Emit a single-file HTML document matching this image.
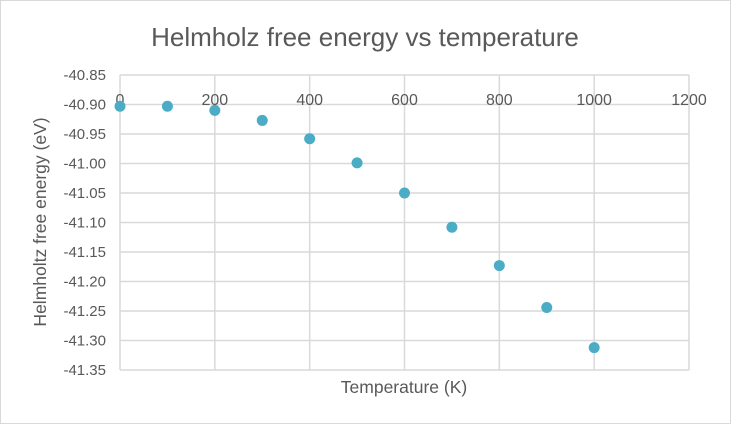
<!DOCTYPE html>
<html><head><meta charset="utf-8"><style>
body{margin:0;background:#fff;}
svg text{font-family:"Liberation Sans",sans-serif;fill:#595959;}
</style></head><body>
<svg id="chart" width="731" height="424">
<rect x="0.5" y="0.5" width="730" height="423" fill="#fff" stroke="#d9d9d9"/>
<text x="365" y="46" text-anchor="middle" font-size="26">Helmholz free energy vs temperature</text>
<g id="grid"></g><g id="xt"></g><g id="yt"></g><g id="pts"></g>
<text x="404" y="393" text-anchor="middle" font-size="17.5">Temperature (K)</text>
<text transform="translate(46,222) rotate(-90)" text-anchor="middle" font-size="17.5">Helmholtz free energy (eV)</text>
</svg>
<script>
const temps=[0,100,200,300,400,500,600,700,800,900,1000];
const energies=[-40.903,-40.903,-40.910,-40.927,-40.958,-40.999,-41.050,-41.108,-41.173,-41.244,-41.312];
const xTicks=[0,200,400,600,800,1000,1200];
const yTicks=[-40.85,-40.90,-40.95,-41.00,-41.05,-41.10,-41.15,-41.20,-41.25,-41.30,-41.35];
const X0=120,X1=689,Y0=75,Y1=370;
const xs=v=>X0+(v-0)/1200*(X1-X0);
const ys=v=>Y0+(-40.85-v)/0.5*(Y1-Y0);
const NS='http://www.w3.org/2000/svg';
function mk(t,a,p){const e=document.createElementNS(NS,t);for(const k in a)e.setAttribute(k,a[k]);p.appendChild(e);return e;}
const grid=document.getElementById('grid'),xt=document.getElementById('xt'),yt=document.getElementById('yt'),pts=document.getElementById('pts');
yTicks.forEach(v=>{
 const l=mk('line',{x1:X0,x2:X1,y1:ys(v),y2:ys(v),stroke:'#d9d9d9','stroke-width':1.5},grid);
 
 
 const t=mk('text',{x:106,y:ys(v)+5,'text-anchor':'end','font-size':15},yt);
 t.textContent=v.toFixed(2);
 
 
});
xTicks.forEach(v=>{
 const l=mk('line',{x1:xs(v),x2:xs(v),y1:Y0,y2:Y1,stroke:'#d9d9d9','stroke-width':1.5},grid);
 
 
 const t=mk('text',{x:xs(v),y:105,'text-anchor':'middle','font-size':16},xt);
 t.textContent=v;
 
 
});
temps.forEach((v,i)=>{
 const c=mk('circle',{cx:xs(v),cy:ys(energies[i]),r:5.5,fill:'#4bacc6'},pts);
 
 
});
</script>
</body></html>
